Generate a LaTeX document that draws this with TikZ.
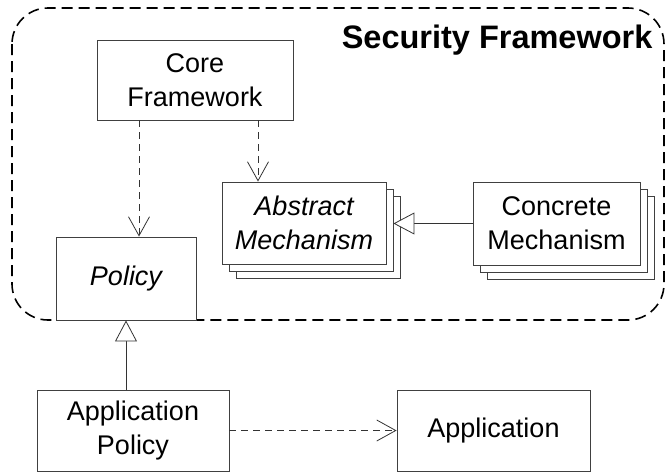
\documentclass[tikz,border=0pt]{standalone}
\usepackage{fontspec}
\setmainfont{Liberation Sans}
\usetikzlibrary{positioning,arrows.meta}

\begin{document}
\begin{tikzpicture}[
    x=1pt, y=-1pt,
    classbox/.style={rectangle, draw=black!75, line width=0.9pt, fill=white, align=center,
                     inner sep=0pt, font=\fontsize{27}{34}\selectfont},
    dep/.style={draw=black!80, line width=0.8pt, dash pattern=on 7pt off 5pt,
                -{Straight Barb[length=19pt,width=21pt,line width=0.8pt]}},
    inherit/.style={draw=black!80, line width=0.8pt,
                    -{Triangle[open,length=21pt,width=22pt,line width=0.8pt,fill=white]}},
    frame/.style={draw, line width=1.6pt, dash pattern=on 11pt off 6pt, rounded corners=36pt}
]
\useasboundingbox (0,0) rectangle (667,472);

% Package frame
\draw[frame] (12,8) rectangle (664,320);
\node[font=\fontsize{32.5}{38}\selectfont\bfseries, anchor=east] (title) at (656,40) {Security Framework};

% Core and policy
\node[classbox, minimum width=196pt, minimum height=80pt] (core) at (195,80) {Core\\Framework};
\node[classbox, minimum width=140pt, minimum height=83pt] (policy) at (126,278.5) {\itshape Policy};

% Mechanisms (stacked)
\node[classbox, minimum width=164pt, minimum height=82pt] (abstract3) at (318,237) {};
\node[classbox, minimum width=164pt, minimum height=82pt] (abstract2) at (311,230) {};
\node[classbox, minimum width=164pt, minimum height=82pt] (abstract) at (304,223) {\itshape Abstract\\\itshape Mechanism};

\node[classbox, minimum width=167pt, minimum height=83pt] (concrete3) at (570.5,237.5) {};
\node[classbox, minimum width=167pt, minimum height=83pt] (concrete2) at (563.5,230.5) {};
\node[classbox, minimum width=167pt, minimum height=83pt] (concrete) at (556.5,223.5) {Concrete\\Mechanism};

% Application side
\node[classbox, minimum width=192pt, minimum height=81pt] (apppolicy) at (133,430.5) {Application\\Policy};
\node[classbox, minimum width=193pt, minimum height=81pt] (app) at (493.5,430.5) {Application};

% Connectors
\coordinate (depA) at (139,0);
\coordinate (depB) at (258,0);
\draw[dep] (core.south -| depA) -- (policy.north -| depA);
\draw[dep] (core.south -| depB) -- (abstract.north -| depB);
\draw[inherit] (concrete.west) -- (abstract2.east |- concrete.west);
\draw[inherit] (apppolicy.north -| policy.south) -- (policy.south);
\draw[dep] (apppolicy.east) -- (app.west);
\end{tikzpicture}
\end{document}
